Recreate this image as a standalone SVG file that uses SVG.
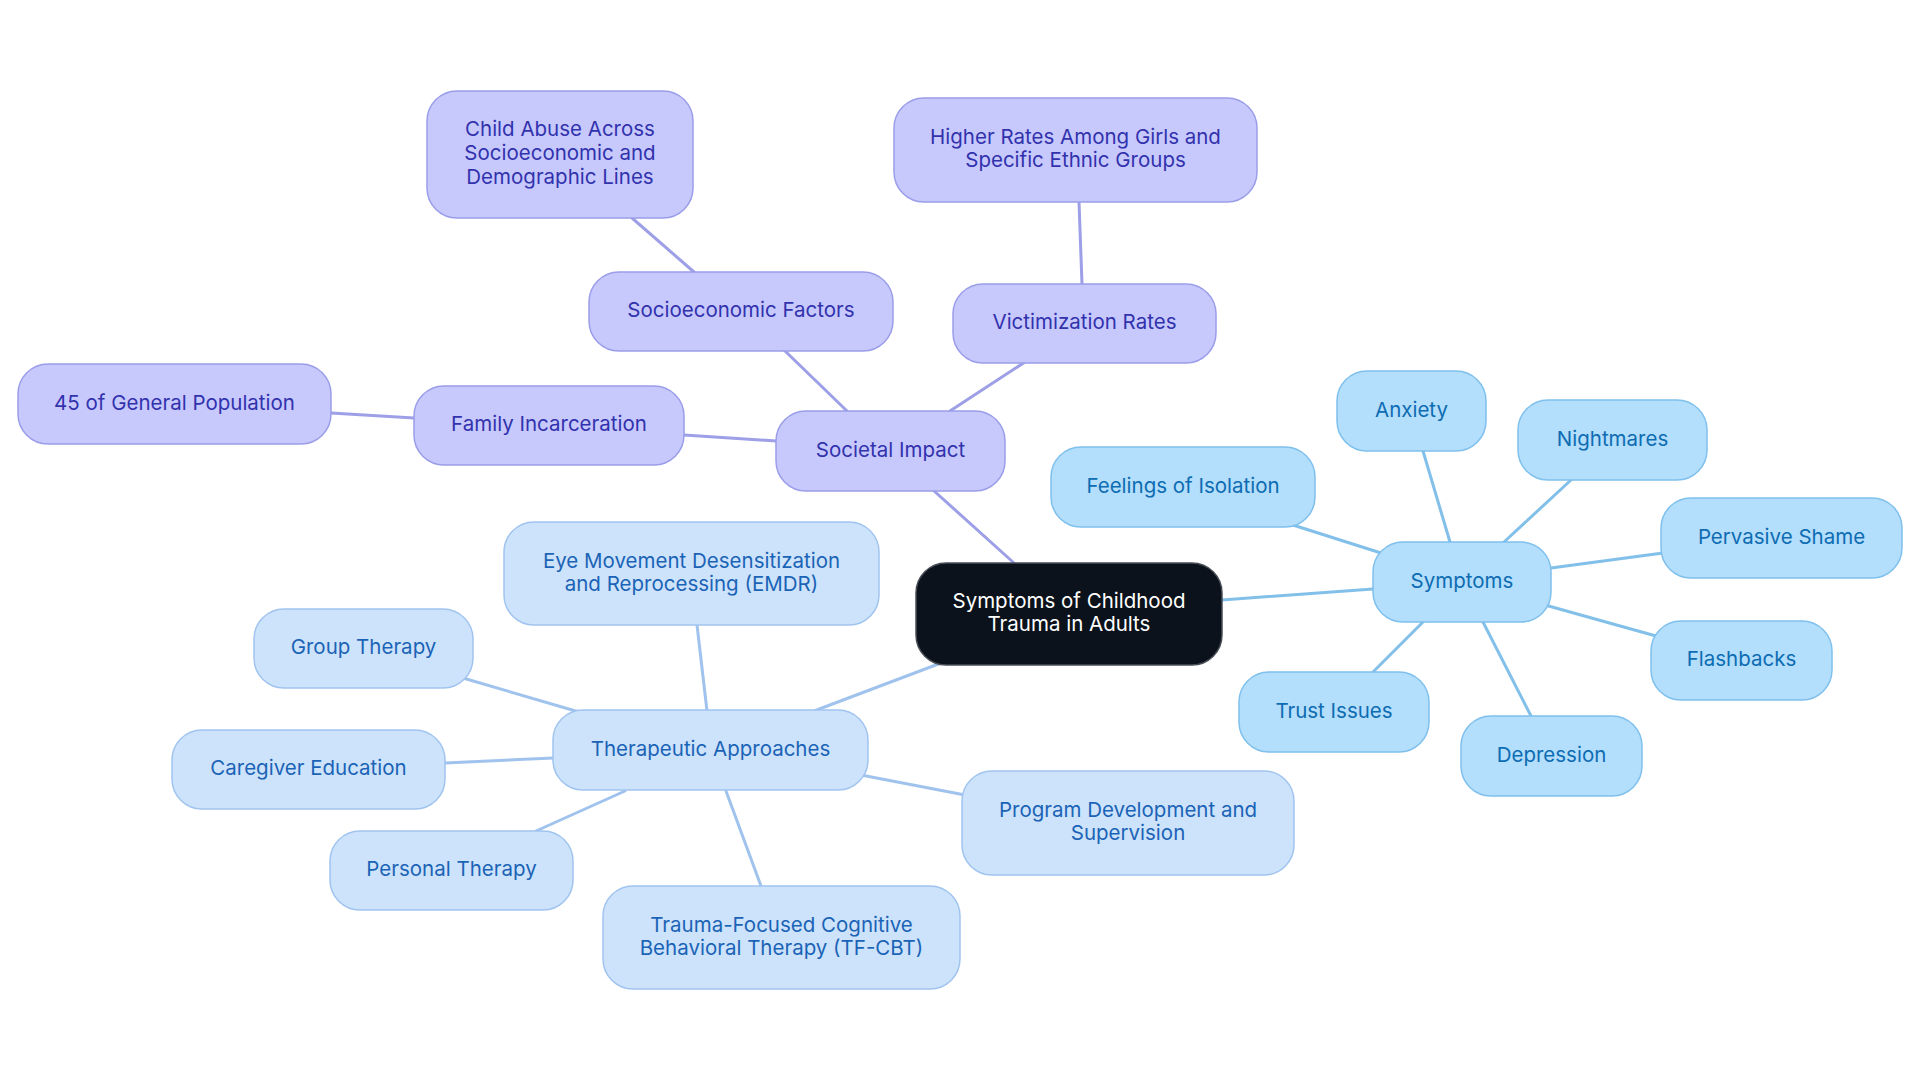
<svg xmlns="http://www.w3.org/2000/svg" width="1920" height="1083" viewBox="0 0 1920 1083">
<style>
text{font-family:Inter,"Noto Sans","Liberation Sans",sans-serif;font-size:20.5px;text-anchor:middle;dominant-baseline:central}
.p rect{fill:#c7c9fd;stroke:#9a9de8;stroke-width:1.5}
.p text{fill:#3232ad}
.s rect{fill:#b3defc;stroke:#7fc0ec;stroke-width:1.5}
.s text{fill:#0d6cb2}
.t rect{fill:#cde3fb;stroke:#a0c4ef;stroke-width:1.5}
.t text{fill:#1b63b6}
.c rect{fill:#0b121b;stroke:#4a4f57;stroke-width:1.5}
.c text{fill:#ffffff}
#edges line{stroke-width:3;stroke-linecap:round}
.ep{stroke:#9d9fe7}
.es{stroke:#82c0ea}
.et{stroke:#a0c3ee}
</style>
<rect width="1920" height="1083" fill="#ffffff"/>
<g id="edges">
<line class="ep" x1="933" y1="490" x2="1014" y2="563"/>
<line class="es" x1="1222" y1="600" x2="1373" y2="589"/>
<line class="et" x1="941" y1="663" x2="814" y2="711"/>
<line class="ep" x1="847" y1="411" x2="784" y2="350"/>
<line class="ep" x1="694" y1="272" x2="632" y2="218"/>
<line class="ep" x1="950" y1="411" x2="1025" y2="362"/>
<line class="ep" x1="1082" y1="284" x2="1079" y2="202"/>
<line class="ep" x1="776" y1="441" x2="684" y2="435"/>
<line class="ep" x1="414" y1="418" x2="331" y2="413"/>
<line class="es" x1="1381" y1="553" x2="1293" y2="525"/>
<line class="es" x1="1450" y1="542" x2="1423" y2="451"/>
<line class="es" x1="1504" y1="542" x2="1571" y2="480"/>
<line class="es" x1="1551" y1="568" x2="1663" y2="553"/>
<line class="es" x1="1545" y1="605" x2="1656" y2="636"/>
<line class="es" x1="1483" y1="622" x2="1531" y2="716"/>
<line class="es" x1="1423" y1="622" x2="1373" y2="672"/>
<line class="et" x1="707" y1="711" x2="697" y2="625"/>
<line class="et" x1="579" y1="712" x2="463" y2="678"/>
<line class="et" x1="553" y1="758" x2="445" y2="763"/>
<line class="et" x1="625" y1="791" x2="536" y2="831"/>
<line class="et" x1="726" y1="791" x2="761" y2="886"/>
<line class="et" x1="861" y1="775" x2="965" y2="795"/>
</g>
<g id="center" class="c"><rect x="916" y="563" width="306" height="102" rx="30"/><text x="1069" y="600">Symptoms of Childhood</text><text x="1069" y="623">Trauma in Adults</text></g>
<g id="societal" class="p"><rect x="776" y="411" width="229" height="80" rx="30"/><text x="890.5" y="449">Societal Impact</text></g>
<g id="socioeconomic" class="p"><rect x="589" y="272" width="304" height="79" rx="30"/><text x="741" y="309.5">Socioeconomic Factors</text></g>
<g id="childabuse" class="p"><rect x="427" y="91" width="266" height="127" rx="30"/><text x="560" y="128.5">Child Abuse Across</text><text x="560" y="152.5">Socioeconomic and</text><text x="560" y="176.5">Demographic Lines</text></g>
<g id="victimization" class="p"><rect x="953" y="284" width="263" height="79" rx="30"/><text x="1084.5" y="321.5">Victimization Rates</text></g>
<g id="higherrates" class="p"><rect x="894" y="98" width="363" height="104" rx="30"/><text x="1075.5" y="136">Higher Rates Among Girls and</text><text x="1075.5" y="159">Specific Ethnic Groups</text></g>
<g id="family" class="p"><rect x="414" y="386" width="270" height="79" rx="30"/><text x="549" y="423.5">Family Incarceration</text></g>
<g id="population" class="p"><rect x="18" y="364" width="313" height="80" rx="30"/><text x="174.5" y="402">45 of General Population</text></g>
<g id="symptoms" class="s"><rect x="1373" y="542" width="178" height="80" rx="30"/><text x="1462" y="580">Symptoms</text></g>
<g id="isolation" class="s"><rect x="1051" y="447" width="264" height="80" rx="30"/><text x="1183" y="485">Feelings of Isolation</text></g>
<g id="anxiety" class="s"><rect x="1337" y="371" width="149" height="80" rx="30"/><text x="1411.5" y="409">Anxiety</text></g>
<g id="nightmares" class="s"><rect x="1518" y="400" width="189" height="80" rx="30"/><text x="1612.5" y="438">Nightmares</text></g>
<g id="shame" class="s"><rect x="1661" y="498" width="241" height="80" rx="30"/><text x="1781.5" y="536">Pervasive Shame</text></g>
<g id="flashbacks" class="s"><rect x="1651" y="621" width="181" height="79" rx="30"/><text x="1741.5" y="658.5">Flashbacks</text></g>
<g id="depression" class="s"><rect x="1461" y="716" width="181" height="80" rx="30"/><text x="1551.5" y="754">Depression</text></g>
<g id="trust" class="s"><rect x="1239" y="672" width="190" height="80" rx="30"/><text x="1334" y="710">Trust Issues</text></g>
<g id="therapeutic" class="t"><rect x="553" y="710" width="315" height="80" rx="30"/><text x="710.5" y="748">Therapeutic Approaches</text></g>
<g id="emdr" class="t"><rect x="504" y="522" width="375" height="103" rx="30"/><text x="691.5" y="560">Eye Movement Desensitization</text><text x="691.5" y="583">and Reprocessing (EMDR)</text></g>
<g id="group" class="t"><rect x="254" y="609" width="219" height="79" rx="30"/><text x="363.5" y="646.5">Group Therapy</text></g>
<g id="caregiver" class="t"><rect x="172" y="730" width="273" height="79" rx="30"/><text x="308.5" y="767.5">Caregiver Education</text></g>
<g id="personal" class="t"><rect x="330" y="831" width="243" height="79" rx="30"/><text x="451.5" y="868.5">Personal Therapy</text></g>
<g id="tfcbt" class="t"><rect x="603" y="886" width="357" height="103" rx="30"/><text x="781.5" y="924">Trauma-Focused Cognitive</text><text x="781.5" y="947">Behavioral Therapy (TF-CBT)</text></g>
<g id="program" class="t"><rect x="962" y="771" width="332" height="104" rx="30"/><text x="1128" y="809">Program Development and</text><text x="1128" y="832">Supervision</text></g>
</svg>
